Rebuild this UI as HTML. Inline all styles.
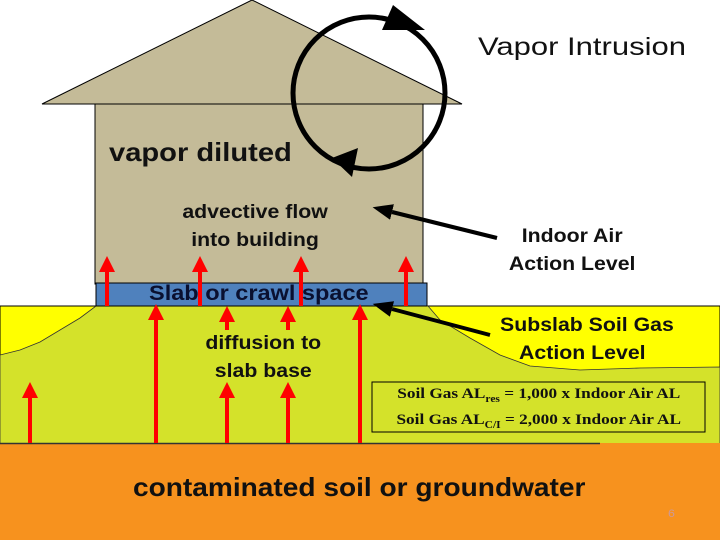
<!DOCTYPE html>
<html><head><style>
html,body{margin:0;padding:0;background:#fff}
body{width:720px;height:540px;overflow:hidden;position:relative;font-family:"Liberation Sans",sans-serif}
.t{position:absolute;color:#111;text-align:center;white-space:nowrap;font-weight:bold;transform-origin:left top;transform:scaleX(1.12)}
</style></head><body>
<svg width="720" height="540" style="position:absolute;left:0;top:0">
<defs>
<marker id="rh" markerWidth="4" markerHeight="4" refX="0" refY="2" orient="auto" markerUnits="strokeWidth"><path d="M0,0 L4,2 L0,4z" fill="#f00"/></marker>
<marker id="bh" markerWidth="5" markerHeight="4" refX="0" refY="2" orient="auto" markerUnits="strokeWidth"><path d="M0,0 L5,2 L0,4z" fill="#000"/></marker>
</defs>
<rect x="0" y="306" width="720" height="140" fill="#ffff00" stroke="#000" stroke-width="1"/>
<path d="M0,355 L20,350 L40,342 L60,330 L80,318 L96,306 L428,306 L440,320 L470,338 L500,355 L530,366 L580,370 L640,368 L720,367 L720,444 L0,444 Z" fill="#d4e22a" stroke="#333" stroke-width="0.8"/>
<rect x="0" y="443" width="720" height="97" fill="#f7921e"/>
<line x1="0" y1="443.5" x2="600" y2="443.5" stroke="#333" stroke-width="1.5"/>
<polygon points="42,104 252,0 462,104" fill="#c4bb98" stroke="#000" stroke-width="1"/>
<rect x="95" y="104" width="328" height="180" fill="#c4bb98" stroke="#000" stroke-width="1"/>
<rect x="96" y="283" width="331" height="23" fill="#4f81bd" stroke="#000" stroke-width="1"/>
<g stroke="#f00" stroke-width="4" marker-end="url(#rh)">
<line x1="107" y1="306" x2="107" y2="272"/>
<line x1="200" y1="306" x2="200" y2="272"/>
<line x1="301" y1="306" x2="301" y2="272"/>
<line x1="406" y1="306" x2="406" y2="272"/>
<line x1="30" y1="443" x2="30" y2="398"/>
<line x1="156" y1="443" x2="156" y2="320"/>
<line x1="227" y1="443" x2="227" y2="398"/>
<line x1="288" y1="443" x2="288" y2="398"/>
<line x1="360" y1="443" x2="360" y2="320"/>
<line x1="227" y1="330" x2="227" y2="322"/>
<line x1="288" y1="330" x2="288" y2="322"/>
</g>
<circle cx="369" cy="93" r="76" fill="none" stroke="#000" stroke-width="5"/>
<polygon points="393,5 425,30 382,30" fill="#000"/>
<polygon points="332,158 358,148 352,177" fill="#000"/>
<g stroke="#000" stroke-width="4" marker-end="url(#bh)">
<line x1="497" y1="238" x2="392" y2="212"/>
<line x1="490" y1="335" x2="392" y2="309"/>
</g>
<rect x="372" y="382" width="333" height="50" fill="none" stroke="#000" stroke-width="1"/>
</svg>
<div class="t" style="left:478px;top:33px;font-size:25px;font-weight:normal;transform:scaleX(1.24)">Vapor Intrusion</div>
<div class="t" style="left:109px;top:137px;font-size:26px">vapor diluted</div>
<div class="t" style="left:175px;top:199px;width:143px;font-size:19px;line-height:28px">advective flow<br>into building</div>
<div class="t" style="left:505px;top:223px;width:120px;font-size:19px;line-height:28px">Indoor Air<br>Action Level</div>
<div class="t" style="left:149px;top:282px;font-size:21px;color:#0a1030">Slab or crawl space</div>
<div class="t" style="left:200px;top:330px;width:113px;font-size:19px;line-height:28px">diffusion to<br>slab base</div>
<div class="t" style="left:500px;top:312px;width:147px;font-size:19px;line-height:28px">Subslab Soil Gas<br>Action Level</div>
<div class="t" style="left:376px;top:384px;width:283px;transform:scaleX(1.15);font-family:'Liberation Serif',serif;font-size:15px;line-height:21px">Soil Gas AL<sub style="font-size:10px">res</sub> = 1,000 x Indoor Air AL<br>Soil Gas AL<sub style="font-size:10px">C/I</sub> = 2,000 x Indoor Air AL</div>
<div class="t" style="left:133px;top:472px;font-size:26px;transform:scaleX(1.08)">contaminated soil or groundwater</div>
<div class="t" style="left:668px;top:508px;font-size:11px;color:#c99;font-weight:normal">6</div>
</body></html>
